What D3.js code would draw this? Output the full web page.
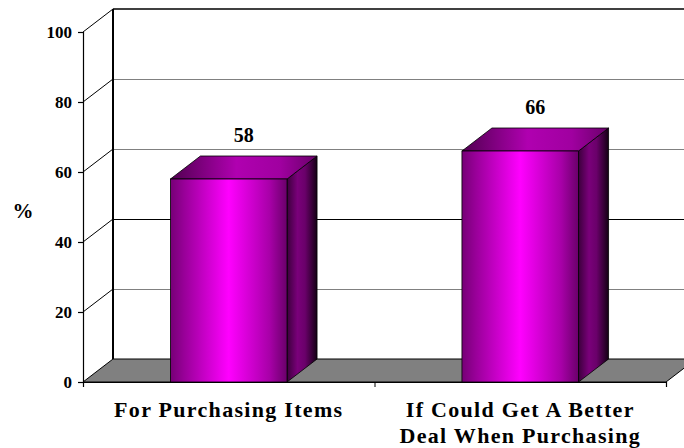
<!DOCTYPE html>
<html>
<head>
<meta charset="utf-8">
<script src="https://cdn.jsdelivr.net/npm/d3@7"></script>
<style>
  html, body { margin: 0; padding: 0; background: #fff; }
  svg { display: block; }
</style>
</head>
<body>
<svg id="chart" width="684" height="448"></svg>
<script>
// ---- data ----
const categories = ["For Purchasing Items", "If Could Get A Better Deal When Purchasing"];
const categoryLines = [["For Purchasing Items"], ["If Could Get A Better", "Deal When Purchasing"]];
const values = [58, 66];
const valueLabels = ["58", "66"];
const yTicks = [0, 20, 40, 60, 80, 100];
const yTitle = "%";

// ---- layout ----
const svg = d3.select("#chart");
const x0 = 83, x1 = 666;     // front plane x-range
const yTop = 32, yBot = 382;  // front plane y-range
const DX = 30, DY = -23;      // depth offset
const FONT = "'Liberation Serif', 'Times New Roman', serif";

const y = d3.scaleLinear().domain([0, 100]).range([yBot, yTop]);
const x = d3.scaleBand().domain(categories).range([x0, x1]).paddingInner(0.6).paddingOuter(0.3);

// gradients
const defs = svg.append("defs");
function grad(id, stops) {
  const g = defs.append("linearGradient").attr("id", id).attr("x1", "0").attr("x2", "1").attr("y1", "0").attr("y2", "0");
  stops.forEach(([o, c]) => g.append("stop").attr("offset", o).attr("stop-color", c));
}
grad("gFront", [[0, "#760076"], [0.12, "#990099"], [0.5, "#ff00ff"], [0.85, "#a800a8"], [1, "#6a006a"]]);
grad("gSide", [[0, "#3c003c"], [0.35, "#7a007a"], [0.6, "#6a006a"], [1, "#140014"]]);
grad("gTop", [[0, "#500050"], [0.45, "#b000b0"], [0.75, "#a000a0"], [1, "#6a006a"]]);

// ---- walls ----
const gridVals = yTicks.filter(v => v > 0 && v < 100);

svg.append("g").selectAll("line").data(gridVals).join("line")
  .attr("x1", x0 + DX).attr("x2", x1 + DX)
  .attr("y1", d => y(d) + DY).attr("y2", d => y(d) + DY)
  .attr("stroke", d => d === 40 ? "#000" : "#808080").attr("stroke-width", 1)
  .attr("shape-rendering", "crispEdges");

svg.append("line")
  .attr("x1", x0 + DX).attr("x2", x1 + DX)
  .attr("y1", y(100) + DY).attr("y2", y(100) + DY)
  .attr("stroke", "#000").attr("stroke-width", 1.6);

svg.append("g").selectAll("line").data(yTicks.filter(v => v > 0)).join("line")
  .attr("x1", x0).attr("y1", d => y(d))
  .attr("x2", x0 + DX).attr("y2", d => y(d) + DY)
  .attr("stroke", "#000").attr("stroke-width", 1);

svg.append("line")
  .attr("x1", x0 + DX).attr("x2", x0 + DX)
  .attr("y1", y(100) + DY).attr("y2", y(0) + DY)
  .attr("stroke", "#000").attr("stroke-width", 2);

svg.append("path")
  .attr("d", `M${x0},${y(0)} L${x0 + DX},${y(0) + DY} L${x1 + DX},${y(0) + DY} L${x1},${y(0)} Z`)
  .attr("fill", "#808080").attr("stroke", "#000").attr("stroke-width", 1);

// ---- bars ----
const bw = x.bandwidth();
svg.append("g").selectAll("g").data(values).join("g").each(function(v, i) {
  const g = d3.select(this);
  const bx = x(categories[i]);
  const top = y(v), bot = y(0);
  g.append("path")
    .attr("d", `M${bx + bw},${bot} L${bx + bw + DX},${bot + DY} L${bx + bw + DX},${top + DY} L${bx + bw},${top} Z`)
    .attr("fill", "url(#gSide)").attr("stroke", "#000").attr("stroke-width", 0.8);
  g.append("path")
    .attr("d", `M${bx},${top} L${bx + DX},${top + DY} L${bx + bw + DX},${top + DY} L${bx + bw},${top} Z`)
    .attr("fill", "url(#gTop)").attr("stroke", "#000").attr("stroke-width", 0.8);
  g.append("rect")
    .attr("x", bx).attr("y", top).attr("width", bw).attr("height", bot - top)
    .attr("fill", "url(#gFront)").attr("stroke", "#000").attr("stroke-width", 0.8);
});

svg.append("g").selectAll("text").data(values).join("text")
  .attr("x", (d, i) => x(categories[i]) + bw / 2 + DX / 2)
  .attr("y", d => y(d) - 37)
  .attr("text-anchor", "middle")
  .style("font-family", FONT).style("font-weight", "bold").style("font-size", "20px")
  .text((d, i) => valueLabels[i]);

// ---- axes ----
const yAxis = svg.append("g").attr("transform", `translate(${x0},0)`)
  .call(d3.axisLeft(y).tickValues(yTicks).tickSize(5).tickPadding(6).tickFormat(d3.format("d")));
yAxis.attr("font-family", null).attr("font-size", null);
yAxis.select(".domain").attr("stroke", "#000").attr("stroke-width", 1.2);
yAxis.selectAll(".tick line").attr("stroke", "#000").attr("stroke-width", 1.2);
yAxis.selectAll(".tick text")
  .style("font-family", FONT).style("font-weight", "bold").style("font-size", "17px")
  .attr("fill", "#000");

const xEdge = d3.scaleLinear().domain([0, categories.length]).range([x0, x1]);
const xAxis = svg.append("g").attr("transform", `translate(0,${y(0)})`)
  .call(d3.axisBottom(xEdge).tickValues(d3.range(categories.length + 1)).tickSize(5).tickFormat(""));
xAxis.select(".domain").attr("stroke", "#000").attr("stroke-width", 1.2);
xAxis.selectAll(".tick line").attr("stroke", "#000").attr("stroke-width", 1);

svg.append("g").selectAll("text").data(categoryLines).join("text")
  .attr("x", (d, i) => x(categories[i]) + bw / 2)
  .attr("y", 417)
  .attr("text-anchor", "middle")
  .style("font-family", FONT).style("font-weight", "bold").style("font-size", "22px")
  .attr("letter-spacing", 1.3)
  .each(function(lines) {
    const t = d3.select(this);
    lines.forEach((ln, k) => {
      t.append("tspan").attr("x", t.attr("x")).attr("dy", k === 0 ? 0 : 26).text(ln);
    });
  });

svg.append("text")
  .attr("x", 23).attr("y", 218)
  .attr("text-anchor", "middle")
  .style("font-family", FONT).style("font-weight", "bold").style("font-size", "21px")
  .text(yTitle);
</script>
</body>
</html>
